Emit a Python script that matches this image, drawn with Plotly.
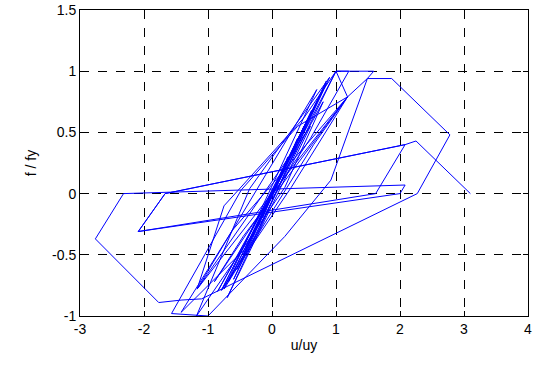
import plotly.graph_objects as go

# hysteresis path vertices (u/uy, f/fy)
u_vals = [0.00, 0.25, -0.15, 0.40, -0.30, 0.50, -0.45, 0.62, -0.55, 0.75, -0.68,
          0.85, -0.79, 0.55, -0.60, 1.00, 1.20, 0.60, -0.90, -0.45, 1.18, 0.65,
          -0.75, 0.70, -1.17, -0.75, 0.50, 1.00, 0.35, -0.85, 0.80, 0.20, -1.18,
          -0.35, 0.90, 0.45, -0.70, 0.60, -1.17, 1.18, 1.00, 1.59, 1.49, 0.92,
          0.20, -1.00, -1.57, -0.48, 0.40, 1.18, 0.30, -0.79, -0.20, 0.85, -0.42,
          -1.42, -0.62, 1.18, 1.49, 1.87, 2.78, 2.27, -1.10, -1.42, -1.77, -2.76,
          -2.32, 2.08, 2.00, -2.09, -1.67, 2.08, 1.62, -2.09, -1.67, 2.08, 2.25,
          3.10]
f_vals = [0.00, 0.30, -0.20, 0.45, -0.35, 0.55, -0.50, 0.68, -0.62, 0.80, -0.72,
          0.90, -0.79, 0.60, -0.70, 1.00, 1.00, 0.45, -0.72, -0.35, 0.79, 0.40,
          -0.78, 0.85, -0.78, -0.10, 0.62, 1.00, 0.35, -0.80, 0.75, 0.05, -1.00,
          0.04, 0.95, 0.45, -0.85, 0.55, -0.78, 0.79, 1.00, 1.00, 0.94, 0.11,
          -0.35, -1.00, -0.98, 0.03, 0.55, 0.79, 0.05, -0.79, -0.30, 0.92, -0.45,
          -0.97, -0.30, 0.79, 0.94, 0.94, 0.48, 0.00, -0.86, -0.87, -0.89, -0.37,
          0.00, 0.07, 0.00, -0.31, 0.00, 0.40, 0.00, -0.31, 0.00, 0.40, 0.43,
          0.00]

x_ticks = [-3, -2, -1, 0, 1, 2, 3, 4]
y_ticks = [-1, -0.5, 0, 0.5, 1, 1.5]
y_tick_text = ["-1", "-0.5", "0", "0.5", "1", "1.5"]

fig = go.Figure()
fig.add_trace(go.Scatter(x=u_vals, y=f_vals, mode="lines",
                         line=dict(color="#0000FF", width=1), showlegend=False))

font = dict(family="Liberation Sans, Arial, sans-serif", size=14, color="black")
axis_common = dict(
    showline=True, linecolor="black", linewidth=1, mirror="ticks",
    ticks="inside", ticklen=5, tickcolor="black",
    showgrid=True, gridcolor="black", griddash="dash", gridwidth=1,
    zeroline=False, automargin=False, tickfont=font,
)

fig.update_xaxes(range=[-3, 4], tickvals=x_ticks, ticktext=[str(v) for v in x_ticks],
                 title=dict(text="u/uy", font=font, standoff=4), **axis_common)
fig.update_yaxes(range=[-1, 1.5], tickvals=y_ticks, ticktext=y_tick_text,
                 title=dict(text="f / fy", font=font, standoff=12), **axis_common)

fig.update_layout(width=539, height=370,
                  margin=dict(l=80, r=11, t=10, b=54, autoexpand=False),
                  paper_bgcolor="white", plot_bgcolor="white")

fig.write_html("out.html")
